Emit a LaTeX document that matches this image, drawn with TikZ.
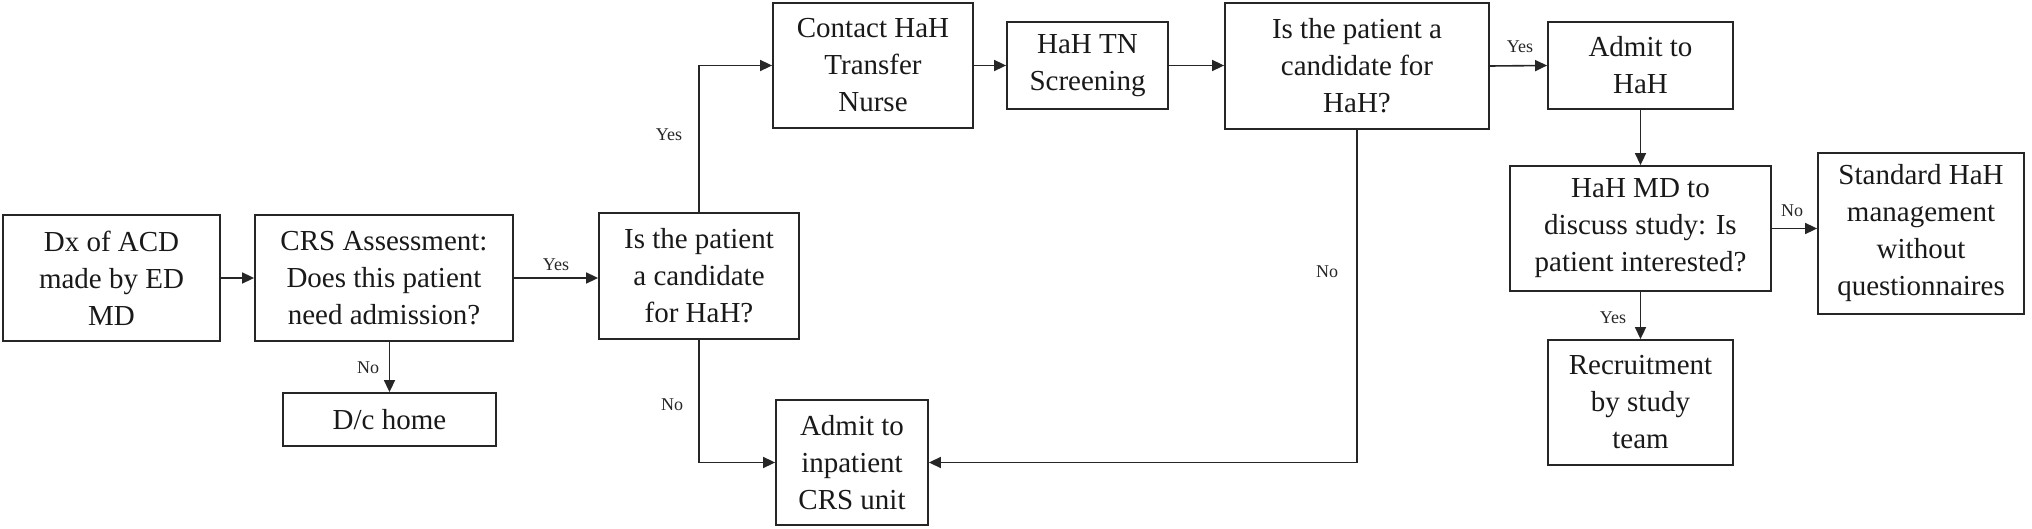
\documentclass[tikz,border=0pt]{standalone}
\usepackage{fontspec}
\setmainfont{Liberation Serif}
\usetikzlibrary{arrows.meta}
\begin{document}
\begin{tikzpicture}[x=1pt,y=-1pt,
  box/.style={draw=black!85, line width=1.8pt, align=center, inner sep=0pt,
    font=\fontsize{29}{37}\selectfont, text=black!90},
  lbl/.style={font=\fontsize{18}{20}\selectfont, inner sep=0pt, text=black!85},
  arr/.style={draw=black!85, line width=1.6pt, -{Triangle[length=12pt,width=11pt]}}]
\useasboundingbox (0,0) rectangle (2032,529);
\node[box, minimum width=217pt, minimum height=126pt] (A) at (111.5,278) {Dx of ACD\\made by ED\\MD};
\node[box, minimum width=258pt, minimum height=126pt] (B) at (384,278) {CRS Assessment:\\Does this patient\\need admission?};
\node[box, minimum width=213pt, minimum height=53pt] (dc) at (389.5,419.5) {D/c home};
\node[box, minimum width=200pt, minimum height=126pt] (C) at (699,276) {Is the patient\\a candidate\\for HaH?};
\node[box, minimum width=200pt, minimum height=125pt] (contact) at (873,65.5) {Contact HaH\\Transfer\\Nurse};
\node[box, minimum width=161pt, minimum height=87pt] (tn) at (1087.5,65.5) {HaH TN\\Screening};
\node[box, minimum width=264pt, minimum height=126pt] (D) at (1357,66) {Is the patient a\\candidate for\\HaH?};
\node[box, minimum width=185pt, minimum height=87pt] (admit) at (1640.5,65.5) {Admit to\\HaH};
\node[box, minimum width=261pt, minimum height=125pt] (md) at (1640.5,228.5) {HaH MD to\\discuss study: Is\\patient interested?};
\node[box, minimum width=206pt, minimum height=161pt] (std) at (1921,233.5) {Standard HaH\\management\\without\\questionnaires};
\node[box, minimum width=185pt, minimum height=125pt] (rec) at (1640.5,402.5) {Recruitment\\by study\\team};
\node[box, minimum width=152pt, minimum height=125pt] (crs) at (852,462.5) {Admit to\\inpatient\\CRS unit};

\draw[arr] (A.east) -- (B.west);
\draw[arr] (B.east) -- (C.west |- B.east);
\draw[arr] (B.south -| dc.north) -- (dc.north);
\draw[arr] (C.north) |- (contact.west);
\draw[arr] (C.south) |- (crs.west);
\draw[arr] (contact.east) -- (tn.west);
\draw[arr] (tn.east) -- (D.west |- tn.east);
\draw[arr] (D.east) -- (admit.west);
\draw[arr] (D.south) |- (crs.east);
\draw[arr] (admit.south) -- (md.north);
\draw[arr] (md.east) -- (std.west |- md.east);
\draw[arr] (md.south) -- (rec.north);

\node[lbl] (l1) at (556,265) {Yes};
\node[lbl] (l2) at (368,368) {No};
\node[lbl] (l3) at (669,135) {Yes};
\node[lbl] (l4) at (672,405) {No};
\node[lbl] (l5) at (1327,272) {No};
\node[lbl] (l6) at (1520,47) {Yes};
\node[lbl] (l7) at (1792,211) {No};
\node[lbl] (l8) at (1613,318) {Yes};
\end{tikzpicture}
\end{document}
